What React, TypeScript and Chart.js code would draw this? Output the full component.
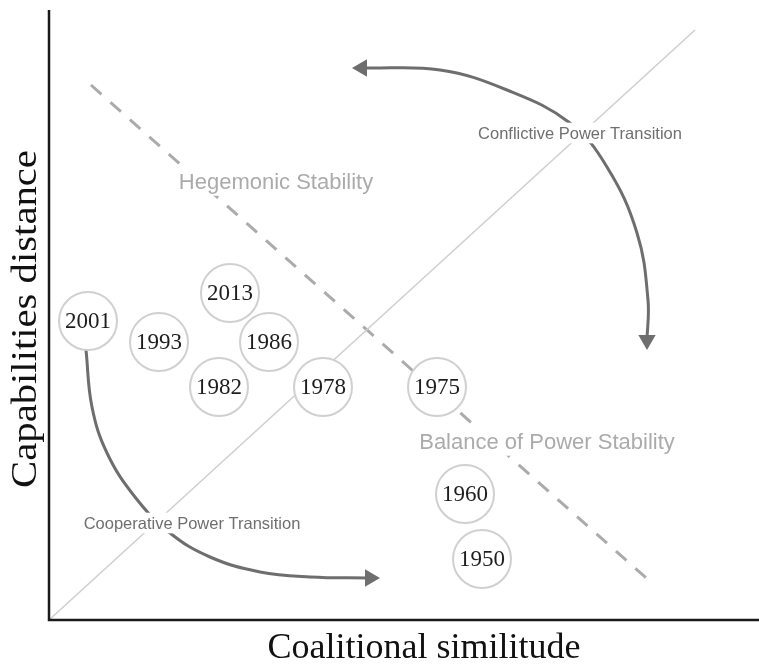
import React, { useEffect, useRef } from 'react';
import { Chart, registerables } from 'chart.js';
Chart.register(...registerables);

// Period circles: coalitional similitude (x) vs capabilities distance (y), in plot units
const years = ['2001', '2013', '1993', '1986', '1982', '1978', '1975', '1960', '1950'];
const similitude = [39, 181, 110, 220, 170, 274, 388, 416, 433];
const distance = [299, 327, 278, 278, 233, 233, 233, 126, 61];

// Parity diagonal (solid) and stability divider (dashed)
const diagonalX = [0, 646];
const diagonalY = [0, 590];
const dividerX = [42, 604];
const dividerY = [535, 36];

// Curved arrows
const conflictiveX = [313, 391, 458, 521, 558, 588, 599, 598];
const conflictiveY = [552, 550, 530, 497, 453, 387, 320, 280];
const cooperativeX = [37, 43, 58, 86, 121, 161, 211, 261, 321];
const cooperativeY = [270, 213, 167, 123, 87, 63, 48, 43, 42];

// Region / transition labels
const annotationTexts = ['Hegemonic Stability', 'Balance of Power Stability', 'Conflictive Power Transition', 'Cooperative Power Transition'];
const annotationX = [227, 498, 531, 143];
const annotationY = [438, 178, 487, 97];

const xTitle = 'Coalitional similitude';
const yTitle = 'Capabilities distance';

const pts = (xs: number[], ys: number[]) => xs.map((v, i) => ({ x: v, y: ys[i] }));

export default function App() {
  const ref = useRef<HTMLCanvasElement>(null);
  useEffect(() => {
    const overlay = {
      id: 'overlay',
      afterDatasetsDraw(chart: any) {
        const { ctx, chartArea, scales } = chart;
        const xs = scales.x;
        const ys = scales.y;
        ctx.save();
        // annotation labels with white backing
        const annColors = ['#ababab', '#ababab', '#6f6f6f', '#6f6f6f'];
        const annSizes = [22, 22, 16.5, 16.5];
        annotationTexts.forEach((t, i) => {
          const px = xs.getPixelForValue(annotationX[i]);
          const py = ys.getPixelForValue(annotationY[i]);
          ctx.font = `${annSizes[i]}px "Liberation Sans", Arial, sans-serif`;
          const w = ctx.measureText(t).width;
          const h = annSizes[i] * 1.25;
          ctx.fillStyle = '#ffffff';
          ctx.fillRect(px - w / 2 - 2, py - h / 2, w + 4, h);
          ctx.fillStyle = annColors[i];
          ctx.textAlign = 'center';
          ctx.textBaseline = 'middle';
          ctx.fillText(t, px, py + 1);
        });
        // year labels
        ctx.font = '23px "Liberation Serif", "Times New Roman", serif';
        ctx.fillStyle = '#1e1e1e';
        ctx.textAlign = 'center';
        ctx.textBaseline = 'middle';
        years.forEach((yr, i) => {
          ctx.fillText(yr, xs.getPixelForValue(similitude[i]), ys.getPixelForValue(distance[i]) + 1);
        });
        // axes
        ctx.strokeStyle = '#1a1a1a';
        ctx.lineWidth = 2.5;
        ctx.beginPath();
        ctx.moveTo(chartArea.left, chartArea.top);
        ctx.lineTo(chartArea.left, chartArea.bottom);
        ctx.lineTo(chartArea.right, chartArea.bottom);
        ctx.stroke();
        // axis titles
        ctx.fillStyle = '#111111';
        ctx.font = '36px "Liberation Serif", "Times New Roman", serif';
        ctx.textAlign = 'center';
        ctx.textBaseline = 'alphabetic';
        ctx.fillText(xTitle, 424, 658);
        ctx.save();
        ctx.translate(36, 319);
        ctx.rotate(-Math.PI / 2);
        ctx.scale(1.13, 1);
        ctx.fillText(yTitle, 0, 0);
        ctx.restore();
        ctx.restore();
      },
    };

    const arrowStyle = (n: number, startRot: number | null, endRot: number | null) => ({
      pointRadius: Array.from({ length: n }, (_, i) => (i === 0 && startRot !== null) || (i === n - 1 && endRot !== null) ? 10 : 0),
      pointRotation: Array.from({ length: n }, (_, i) => (i === 0 ? startRot ?? 0 : i === n - 1 ? endRot ?? 0 : 0)),
    });

    const chart = new Chart(ref.current as HTMLCanvasElement, {
      type: 'scatter',
      data: {
        datasets: [
          {
            label: 'Periods',
            data: pts(similitude, distance),
            pointRadius: 29,
            pointBackgroundColor: '#ffffff',
            pointBorderColor: '#d0d0d0',
            pointBorderWidth: 2,
            showLine: false,
            order: 0,
            clip: false,
          } as any,
          {
            label: 'Parity',
            data: pts(diagonalX, diagonalY),
            showLine: true,
            borderColor: '#cfcfcf',
            borderWidth: 1.6,
            pointRadius: 0,
            order: 3,
            clip: false,
          },
          {
            label: 'Divider',
            data: pts(dividerX, dividerY),
            showLine: true,
            borderColor: '#ababab',
            borderWidth: 3,
            borderDash: [14, 12],
            pointRadius: 0,
            order: 3,
            clip: false,
          },
          {
            label: 'Conflictive',
            data: pts(conflictiveX, conflictiveY),
            showLine: true,
            borderColor: '#6e6e6e',
            borderWidth: 3,
            tension: 0.4,
            pointStyle: 'triangle',
            pointBackgroundColor: '#6e6e6e',
            pointBorderColor: '#6e6e6e',
            pointBorderWidth: 0,
            ...arrowStyle(conflictiveX.length, -90, 180),
            order: 2,
            clip: false,
          } as any,
          {
            label: 'Cooperative',
            data: pts(cooperativeX, cooperativeY),
            showLine: true,
            borderColor: '#6e6e6e',
            borderWidth: 3,
            tension: 0.4,
            pointStyle: 'triangle',
            pointBackgroundColor: '#6e6e6e',
            pointBorderColor: '#6e6e6e',
            pointBorderWidth: 0,
            ...arrowStyle(cooperativeX.length, null, 90),
            order: 2,
            clip: false,
          } as any,
        ],
      },
      options: {
        responsive: false,
        devicePixelRatio: 1,
        animation: false,
        events: [],
        layout: { autoPadding: false, padding: { left: 49, right: 0, top: 10, bottom: 44 } },
        plugins: { legend: { display: false }, tooltip: { enabled: false } },
        scales: {
          x: { type: 'linear', min: 0, max: 710, display: false },
          y: { type: 'linear', min: 0, max: 610, display: false },
        },
      },
      plugins: [overlay],
    });
    return () => chart.destroy();
  }, []);
  return (
    <div style={{ position: 'fixed', left: 0, top: 0, width: 759, height: 664, background: '#ffffff' }}>
      <canvas ref={ref} width={759} height={664} style={{ display: 'block' }} />
    </div>
  );
}
